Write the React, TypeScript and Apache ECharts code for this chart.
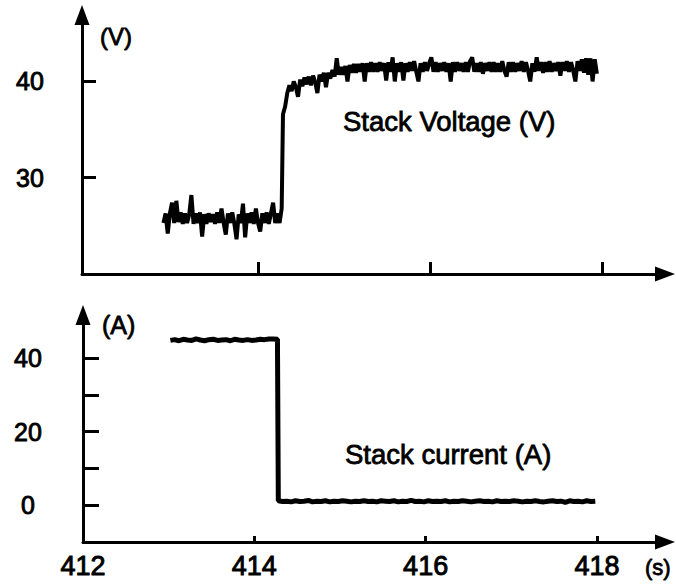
import { useEffect, useRef } from "react";
import * as echarts from "echarts";

// ---- data ----
const voltageLowStart = 412.9;
const voltageHighStart = 414.29;
const voltageStep = 0.025;
const voltageLow = [
  25.3, 26.3, 24.2, 26.3, 27.4, 25.3, 27.6, 25.4, 26.4, 25.2,
  26.3, 25.3, 26.2, 28.2, 25.2, 26.3, 25.3, 26.4, 23.9, 26.2,
  25.2, 26.3, 25.4, 26.2, 25.2, 26.4, 25.3, 26.8, 25.3, 24.1,
  26.3, 25.3, 26.4, 25.2, 23.6, 26.2, 25.3, 27.3, 23.8, 26.3,
  25.3, 26.4, 25.2, 26.8, 25.3, 24.4, 26.3, 25.3, 26.4, 25.2,
  26.3, 27.4, 25.3, 26.3, 25.3, 26.8,
];
const voltageHigh = [
  36.6, 37.4, 38.8, 39.6, 39.0, 40.0, 39.4, 38.4, 40.2, 39.5,
  40.4, 39.7, 40.5, 39.6, 40.6, 39.9, 38.8, 40.7, 40.0, 40.9,
  39.4, 40.9, 40.3, 41.2, 40.5, 42.4, 40.7, 41.5, 40.7, 41.6,
  40.0, 41.7, 40.9, 41.8, 40.9, 41.8, 41.0, 41.9, 40.0, 41.9,
  41.0, 42.0, 41.0, 41.9, 41.0, 42.0, 41.1, 41.9, 40.1, 42.0,
  41.0, 42.5, 40.0, 41.9, 41.0, 42.0, 40.1, 41.9, 41.0, 42.0,
  41.1, 42.1, 41.0, 40.0, 41.9, 41.0, 42.0, 41.1, 41.9, 42.5,
  41.0, 42.0, 41.0, 41.9, 41.1, 42.0, 41.0, 41.9, 40.0, 42.0,
  41.0, 42.0, 41.1, 41.9, 41.0, 42.0, 41.0, 42.1, 42.5, 41.0,
  41.9, 41.0, 42.0, 40.8, 41.9, 41.1, 42.0, 41.0, 42.0, 41.0,
  41.9, 41.0, 42.1, 41.1, 40.5, 42.0, 41.0, 42.0, 41.0, 41.9,
  41.1, 42.1, 41.0, 42.0, 41.1, 40.0, 41.9, 41.0, 42.5, 41.1,
  42.0, 40.9, 42.0, 41.0, 42.1, 41.0, 41.9, 41.1, 42.0, 40.6,
  42.0, 41.1, 42.1, 41.0, 42.0, 41.1, 40.0, 42.1, 41.1, 42.3,
  40.9, 42.4, 40.7, 42.4, 40.0, 42.3, 40.8,
];

const currentLowStart = 413.02;
const currentHighStart = 414.28;
const currentStep = 0.05;
const currentLow = [
  44.8, 45.0, 44.7, 45.1, 44.9, 44.8, 45.2, 44.9, 44.7, 45.0,
  45.1, 44.8, 44.9, 45.0, 44.7, 45.1, 44.9, 44.8, 45.0, 44.8,
  44.9, 45.1, 45.0, 45.2, 45.2, 45.1,
];
const currentHigh = [
  1.2, 1.0, 1.1, 0.9, 1.2, 1.0, 1.1, 1.3, 0.9, 1.1,
  1.0, 1.2, 0.9, 1.1, 1.0, 1.2, 1.1, 0.9, 1.1, 1.0,
  1.2, 1.0, 1.1, 0.9, 1.2, 1.1, 1.0, 1.2, 0.9, 1.1,
  1.0, 1.3, 1.0, 1.1, 0.9, 1.2, 1.0, 1.1, 1.0, 1.2,
  0.9, 1.1, 1.0, 1.2, 1.1, 0.9, 1.1, 1.2, 1.0, 1.1,
  0.9, 1.2, 1.0, 1.1, 1.0, 1.2, 1.1, 0.9, 1.1, 1.0,
  1.2, 1.0, 0.9, 1.1, 1.2, 1.0, 1.1, 0.8, 1.2, 1.0,
  1.1, 0.9, 1.2, 1.0, 1.1,
];

const timeTicks = [412, 414, 416, 418];
const topTimeTicks = [414, 416, 418];
const voltageTicks = [30, 40];
const currentTicks = [0, 10, 20, 30, 40];
const currentLabels = [0, 20, 40];

const FONT = "'Liberation Sans', Arial, Helvetica, sans-serif";

function toPairs(start: number, step: number, values: number[]) {
  return values.map((v, i) => [Number((start + i * step).toFixed(4)), v]);
}

export default function App() {
  const ref = useRef<HTMLDivElement>(null);

  useEffect(() => {
    if (!ref.current) return;
    const chart = echarts.init(ref.current, null, { renderer: "svg" });

    const axisLine = {
      onZero: false,
      symbol: ["none", "triangle"],
      symbolSize: [15, 20],
      lineStyle: { color: "#000", width: 3 },
    };
    const tickStyle = { color: "#000", width: 3 };
    const labelBase = {
      color: "#000",
      fontFamily: FONT,
      textBorderColor: "#000",
      textBorderWidth: 0.9,
    };
    const textStyle = (text: string, size: number) => ({
      text,
      font: `${size}px ${FONT}`,
      fill: "#000",
      stroke: "#000",
      lineWidth: 0.8,
      align: "left",
      verticalAlign: "middle",
    });

    const voltageData = [
      ...toPairs(voltageLowStart, voltageStep, voltageLow),
      ...toPairs(voltageHighStart, voltageStep, voltageHigh),
    ];
    const currentData = [
      ...toPairs(currentLowStart, currentStep, currentLow),
      ...toPairs(currentHighStart, currentStep, currentHigh),
    ];

    chart.setOption({
      animation: false,
      backgroundColor: "#fff",
      grid: [
        { left: 82, top: 15, right: 11, bottom: 310 },
        { left: 83, top: 315, right: 11, bottom: 42 },
      ],
      xAxis: [
        {
          gridIndex: 0,
          type: "value",
          min: 411.953,
          max: 418.732,
          axisLine,
          axisTick: { inside: true, length: 12, lineStyle: tickStyle, customValues: topTimeTicks },
          axisLabel: { show: false },
          splitLine: { show: false },
        },
        {
          gridIndex: 1,
          type: "value",
          min: 412,
          max: 418.794,
          axisLine,
          axisTick: { inside: true, length: 6, lineStyle: tickStyle, customValues: timeTicks },
          axisLabel: { ...labelBase, customValues: timeTicks, fontSize: 27, margin: 10 },
          splitLine: { show: false },
        },
      ],
      yAxis: [
        {
          gridIndex: 0,
          type: "value",
          min: 20,
          max: 46.9,
          axisLine,
          axisTick: { inside: true, length: 14, lineStyle: tickStyle, customValues: voltageTicks },
          axisLabel: { ...labelBase, customValues: voltageTicks, fontSize: 25, align: "center", margin: 52 },
          splitLine: { show: false },
        },
        {
          gridIndex: 1,
          type: "value",
          min: -10,
          max: 51.7,
          axisLine,
          axisTick: { inside: true, length: 16, lineStyle: tickStyle, customValues: currentTicks },
          axisLabel: { ...labelBase, customValues: currentLabels, fontSize: 25, align: "center", margin: 55 },
          splitLine: { show: false },
        },
      ],
      series: [
        {
          type: "line",
          xAxisIndex: 0,
          yAxisIndex: 0,
          data: voltageData,
          showSymbol: false,
          symbol: "none",
          lineStyle: { color: "#000", width: 4 },
        },
        {
          type: "line",
          xAxisIndex: 1,
          yAxisIndex: 1,
          data: currentData,
          showSymbol: false,
          symbol: "none",
          lineStyle: { color: "#000", width: 5 },
        },
      ],
      graphic: [
        { type: "text", x: 100, y: 36, style: textStyle("(V)", 24) },
        { type: "text", x: 102, y: 325, style: textStyle("(A)", 25) },
        { type: "text", x: 645, y: 567, style: textStyle("(s)", 22) },
        { type: "text", x: 343, y: 121, style: textStyle("Stack Voltage (V)", 27.5) },
        { type: "text", x: 345, y: 454, style: textStyle("Stack current (A)", 27.5) },
      ],
    });

    return () => chart.dispose();
  }, []);

  return (
    <div
      ref={ref}
      style={{ position: "absolute", left: 0, top: 0, width: 676, height: 584, background: "#fff" }}
    />
  );
}
